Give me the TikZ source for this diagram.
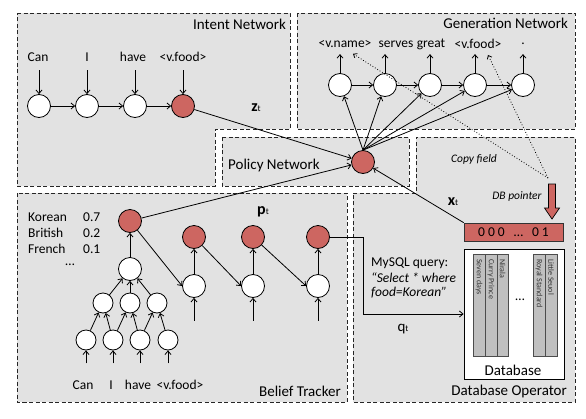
\documentclass[tikz,border=0pt]{standalone}
\usepackage{fontspec}
\setmainfont{Carlito}
\usetikzlibrary{arrows.meta,calc}
\definecolor{regiongray}{RGB}{226,226,226}
\definecolor{nodered}{RGB}{205,102,97}
\definecolor{colgray}{RGB}{192,192,192}
\begin{document}
\begin{tikzpicture}[x=1pt,y=-1pt,
  region/.style={fill=regiongray, draw=black!85, line width=0.9pt, dash pattern=on 4pt off 2.5pt},
  cell/.style={circle, draw=black, line width=0.8pt, fill=white, minimum size=23pt, inner sep=0pt},
  smallcell/.style={cell, minimum size=20pt},
  redcell/.style={cell, fill=nodered},
  arr/.style={-{Straight Barb[length=3.5pt,width=6pt]}, line width=0.8pt},
  title/.style={font=\fontsize{15}{18}\selectfont, inner sep=0pt},
  word/.style={font=\fontsize{13.5}{16}\selectfont, inner sep=0pt},
  note/.style={font=\fontsize{11.5}{14}\selectfont\itshape, inner sep=0pt},
  colbox/.style={fill=colgray, draw=black!70, line width=0.6pt},
  collabel/.style={font=\fontsize{8}{9}\selectfont, text=black!80, rotate=-90, anchor=west, inner sep=0pt},
  dotarr/.style={dotted, line width=0.8pt, -{Straight Barb[length=3pt,width=5pt]}},
  vlabel/.style={inner sep=0pt}
]
\useasboundingbox (0,0) rectangle (586,418);
\fill[white] (0,0) rectangle (586,418);

% ---------- regions ----------
\draw[region] (17,13) -- (290,13) -- (290,129) -- (215,129) -- (215,186) -- (17,186) -- cycle;
\draw[region] (297,13) rectangle (575,129);
\draw[region] (222,137) rectangle (409,186);
\draw[region] (17,193) rectangle (347,402);
\draw[region] (353,193) -- (416,193) -- (416,137) -- (575,137) -- (575,402) -- (353,402) -- cycle;

% ---------- titles ----------
\node[title, anchor=east] (tint) at (286,24) {Intent Network};
\node[title, anchor=east] (tgen) at (568,23) {Generation Network};
\node[title, anchor=west] (tpol) at (228,165) {Policy Network};
\node[title, anchor=east] (tbel) at (341,391) {Belief Tracker};
\node[title, anchor=east] (tdbo) at (567,391) {Database Operator};

% ---------- intent network ----------
\node[word] (iw1) at (38,57) {Can};
\node[word] (iw2) at (87,57) {I};
\node[word] (iw3) at (133,57) {have};
\node[word] (iw4) at (183,57) {<v.food>};
\node[cell] (i1) at (39,106) {};
\node[cell] (i2) at (87,106) {};
\node[cell] (i3) at (135,106) {};
\node[redcell] (i4) at (183,106) {};
\foreach \n in {i1,i2,i3,i4} \draw[arr] ($(\n.north)+(0,-24)$) -- (\n.north);
\draw[arr] (i1) -- (i2);
\draw[arr] (i2) -- (i3);
\draw[arr] (i3) -- (i4);

% ---------- generation network ----------
\node[word] (gw1) at (345,44) {<v.name>};
\node[word] (gw2) at (396,44) {serves};
\node[word] (gw3) at (431,44) {great};
\node[word] (gw4) at (478,44) {<v.food>};
\node[word] (gw5) at (523,44) {.};
\node[cell] (g1) at (340,85) {};
\node[cell] (g2) at (385,85) {};
\node[cell] (g3) at (430,85) {};
\node[cell] (g4) at (475,85) {};
\node[cell] (g5) at (523,85) {};
\foreach \n in {g1,g2,g3,g4,g5} \draw[arr] (\n.north) -- ++(0,-19);
\draw[arr] (g1) -- (g2);
\draw[arr] (g2) -- (g3);
\draw[arr] (g3) -- (g4);
\draw[arr] (g4) -- (g5);

% ---------- policy network ----------
\node[redcell] (pol) at (363,162) {};
\foreach \n in {g1,g2,g3,g4,g5} \draw[arr] (pol.north) -- (\n);
\draw[arr] (i4) -- (pol);
\node[vlabel] (zt) at (256,108) {{\fontsize{16}{16}\selectfont\bfseries z}{\fontsize{9}{9}\selectfont t}};

% ---------- copy field / DB pointer ----------
\node[note] (cf) at (474,159) {Copy field};
\node[note] (dbpl) at (517,196) {DB pointer};
\draw[fill=nodered, line width=0.7pt] (548.5,184) -- (555.5,184) -- (555.5,208) -- (559.5,208) -- (552,219) -- (544.5,208) -- (548.5,208) -- cycle;
\coordinate (cpf) at (548,178);
\draw[dotarr] (cpf) -- ($(gw1.south)+(8,6)$);
\draw[dotarr] (cpf) -- ($(gw4.south)+(10,6)$);
\node[draw=black!80, fill=nodered, line width=0.7pt, minimum width=99pt, minimum height=18pt, inner sep=0pt, font=\fontsize{13.5}{16}\selectfont] (vec) at (513.5,232) {0\hspace{3pt}0\hspace{3pt}0\hspace{9pt}…\hspace{9pt}0\hspace{3pt}1};
\draw[arr] (vec.north west) -- (pol);
\node[vlabel] (xt) at (453,202) {{\fontsize{16}{16}\selectfont\bfseries x}{\fontsize{9}{9}\selectfont t}};

% ---------- belief tracker ----------
\node[word, anchor=west] (k1) at (28,217) {Korean};
\node[word, anchor=west] (k2) at (83,217) {0.7};
\node[word, anchor=west] (b1) at (28,233) {British};
\node[word, anchor=west] (b2) at (83,233) {0.2};
\node[word, anchor=west] (f1) at (28,249) {French};
\node[word, anchor=west] (f2) at (83,249) {0.1};
\node[word] (dots) at (70,265) {…};

\node[redcell] (bt) at (130,221) {};
\node[cell] (b2n) at (130,269) {};
\node[smallcell] (b31) at (103,303) {};
\node[smallcell] (b32) at (130,303) {};
\node[smallcell] (b33) at (157,303) {};
\node[smallcell] (b41) at (86,340) {};
\node[smallcell] (b42) at (113,340) {};
\node[smallcell] (b43) at (140,340) {};
\node[smallcell] (b44) at (168,340) {};
\node[word] (bw1t) at (83,385) {Can};
\node[word] (bw2t) at (111,385) {I};
\node[word] (bw3t) at (138,385) {have};
\node[word] (bw4t) at (180,385) {<v.food>};
\foreach \n in {b41,b42,b43,b44} \draw[arr] ($(\n.south)+(0,13)$) -- (\n.south);
\draw[arr] (b41) -- (b31);
\draw[arr] (b42) -- (b31);
\draw[arr] (b42) -- (b32);
\draw[arr] (b43) -- (b32);
\draw[arr] (b43) -- (b33);
\draw[arr] (b44) -- (b33);
\draw[arr] (b31) -- (b2n);
\draw[arr] (b32) -- (b2n);
\draw[arr] (b33) -- (b2n);
\draw[arr] (b2n) -- (bt);

\node[redcell] (br1) at (194,237) {};
\node[redcell] (br2) at (253,237) {};
\node[redcell] (br3) at (318,237) {};
\node[cell] (bw1) at (194,286) {};
\node[cell] (bw2) at (253,286) {};
\node[cell] (bw3) at (318,286) {};
\foreach \n in {bw1,bw2,bw3} \draw[arr] ($(\n.south)+(0,23)$) -- (\n.south);
\draw[arr] (bw1) -- (br1);
\draw[arr] (bw2) -- (br2);
\draw[arr] (bw3) -- (br3);
\draw[arr] (bt) -- (bw1.west);
\draw[arr] (br1) -- (bw2.west);
\draw[arr] (br2) -- (bw3.west);
\draw[arr] (bt) -- (pol);
\node[vlabel] (pt) at (263,212) {{\fontsize{16}{16}\selectfont\bfseries p}{\fontsize{9}{9}\selectfont t}};

% ---------- database operator ----------
\node[word, anchor=west] (mq1) at (371,263) {MySQL query:};
\node[word, anchor=west, font=\fontsize{13.5}{16}\selectfont\itshape] (mq2) at (371,278) {“Select * where};
\node[word, anchor=west, font=\fontsize{13.5}{16}\selectfont\itshape] (mq3) at (371,293) {food=Korean”};
\node[draw=black, fill=white, line width=0.9pt, minimum width=100pt, minimum height=130pt, inner sep=0pt] (dbbox) at (514,314) {};
\draw[arr] (br3.east) -- ++(33,0) |- (dbbox.west);
\node[vlabel] (qt) at (403,329) {{\fontsize{15}{15}\selectfont q}{\fontsize{9}{9}\selectfont t}};

\draw[colbox] (473,254) rectangle (485,356);
\draw[colbox] (485,254) rectangle (497,356);
\draw[colbox] (497,254) rectangle (508,356);
\draw[colbox] (533,254) rectangle (545,356);
\draw[colbox] (545,254) rectangle (557,356);
\node[collabel] (c1) at (479,259) {Seven days};
\node[collabel] (c2) at (491,259) {Curry Prince};
\node[collabel] (c3) at (502.5,259) {Nirala};
\node[collabel] (c4) at (539,259) {Royal Standard};
\node[collabel] (c5) at (551,259) {Little Seuol};
\node[word] (cdots) at (520,300) {…};
\node[title] (tdb) at (513,370) {Database};
\end{tikzpicture}
\end{document}
